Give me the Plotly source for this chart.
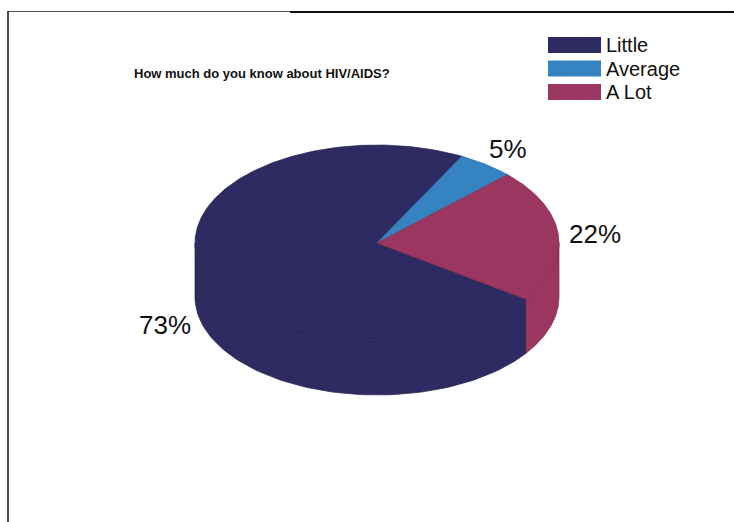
import numpy as np
import plotly.graph_objects as go

# Survey answers
categories = ["Little", "Average", "A Lot"]
values = [73, 5, 22]
colors = ["#2e2a62", "#3583c1", "#9b3661"]
edge_colors = ["#26224f", "#2d6fa4", "#7f2c50"]
title_text = "How much do you know about HIV/AIDS?"

W, H = 734, 522
# pie geometry in page pixels (x right, y down)
cx, cy = 377, 243
rx, ry = 182, 98
depth = 54
start_deg = -35.0  # first slice starts here and runs clockwise

fig = go.Figure()

total = float(sum(values))
spans = [v / total * 360.0 for v in values]
bounds = []
a = start_deg
for s in spans:
    bounds.append((a, a - s))
    a -= s


def ell(t_deg, dy=0.0):
    t = np.radians(t_deg)
    return cx + rx * np.cos(t), cy - ry * np.sin(t) + dy


# side walls (front half of the rim only)
for (a0, a1), col, ecol in zip(bounds, colors, edge_colors):
    lo, hi = a1, a0
    for k in (-720, -360, 0, 360):
        f_lo, f_hi = -180 + k, 0 + k
        s_lo, s_hi = max(lo, f_lo), min(hi, f_hi)
        if s_hi - s_lo <= 0.01:
            continue
        ts = np.linspace(s_lo, s_hi, 80)
        xt, yt = ell(ts)
        xb, yb = ell(ts[::-1], depth)
        xs = np.concatenate([xt, xb, xt[:1]])
        ys = np.concatenate([yt, yb, yt[:1]])
        fig.add_trace(go.Scatter(x=xs, y=ys, mode="lines", fill="toself",
                                 fillcolor=col, line=dict(color=ecol, width=0.7),
                                 hoverinfo="skip", showlegend=False))

# top faces
for (a0, a1), col, ecol, name in zip(bounds, colors, edge_colors, categories):
    ts = np.linspace(a0, a1, max(8, int(abs(a0 - a1) * 1.5)))
    xa, ya = ell(ts)
    xs = np.concatenate([[cx], xa, [cx]])
    ys = np.concatenate([[cy], ya, [cy]])
    fig.add_trace(go.Scatter(x=xs, y=ys, mode="lines", fill="toself",
                             fillcolor=col, line=dict(color=ecol, width=0.7),
                             name=name, hoverinfo="skip", showlegend=False))

# percentage labels outside each slice
for (a0, a1), v in zip(bounds, values):
    mid = np.radians((a0 + a1) / 2.0)
    lx = cx + 1.2 * rx * np.cos(mid)
    ly = cy - 1.2 * ry * np.sin(mid)
    if np.sin(mid) < -0.1:
        ly += depth
    fig.add_annotation(x=lx, y=ly, xref="x", yref="y", text=f"{v}%",
                       showarrow=False,
                       font=dict(family="Liberation Sans, Arial", size=26,
                                 color="#111111"))

# title
fig.add_annotation(x=262, y=73, xref="x", yref="y", text=f"<b>{title_text}</b>",
                   showarrow=False,
                   font=dict(family="Liberation Sans, Arial", size=13,
                             color="#111111"))

# legend
for i, (name, col) in enumerate(zip(categories, colors)):
    y0 = 37 + i * 23.5
    fig.add_shape(type="rect", xref="x", yref="y", x0=548, x1=601,
                  y0=y0, y1=y0 + 16, fillcolor=col, line=dict(width=0))
    fig.add_annotation(x=604, y=y0 + 8, xref="x", yref="y", text=name,
                       showarrow=False, xanchor="left", yanchor="middle",
                       font=dict(family="Liberation Sans, Arial", size=20,
                                 color="#111111"))

# frame lines
fig.add_shape(type="line", xref="x", yref="y", x0=8, x1=290, y0=11.5, y1=11.5,
              line=dict(color="#555555", width=1.2))
fig.add_shape(type="line", xref="x", yref="y", x0=290, x1=W, y0=12, y1=12,
              line=dict(color="#111111", width=2))
fig.add_shape(type="line", xref="x", yref="y", x0=8, x1=8, y0=11, y1=H,
              line=dict(color="#111111", width=1.5))

fig.update_xaxes(range=[0, W], visible=False, fixedrange=True)
fig.update_yaxes(range=[H, 0], visible=False, fixedrange=True)
fig.update_layout(width=W, height=H, margin=dict(l=0, r=0, t=0, b=0),
                  paper_bgcolor="white", plot_bgcolor="white",
                  showlegend=False)

fig.write_html("out.html")
